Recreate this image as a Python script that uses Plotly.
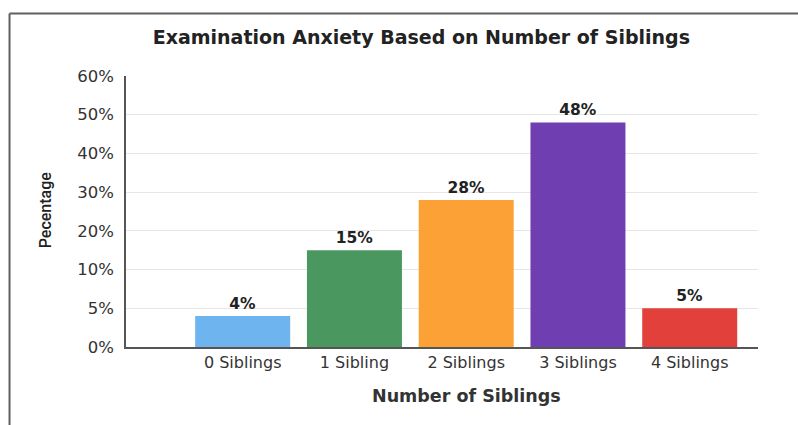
import numpy as np
import plotly.graph_objects as go

# Data
categories = ["0 Siblings", "1 Sibling", "2 Siblings", "3 Siblings", "4 Siblings"]
percentages = [4, 15, 28, 48, 5]
bar_colors = ["#6EB4EE", "#4A9860", "#FBA135", "#6F3FB1", "#E2403A"]

# Y axis labels are evenly spaced although their values are not
tick_values = [0, 5, 10, 20, 30, 40, 50, 60]
tick_labels = [f"{v}%" for v in tick_values]
tick_positions = list(range(len(tick_values)))


def to_axis(v):
    """Map a percentage onto the evenly spaced tick scale."""
    return float(np.interp(v, tick_values, tick_positions))


x_pos = list(range(len(categories)))
y_pos = [to_axis(v) for v in percentages]

TEXT = "#333333"
FONT = "DejaVu Sans"

fig = go.Figure()
fig.add_trace(go.Bar(
    x=x_pos,
    y=y_pos,
    width=0.85,
    marker=dict(color=bar_colors, line=dict(width=0)),
    text=[f"{v}%" for v in percentages],
    textposition="outside",
    textfont=dict(family=FONT, size=15.5, color="#222222", weight="bold"),
    cliponaxis=False,
    hovertemplate="%{customdata}<extra></extra>",
    customdata=[f"{c}: {v}%" for c, v in zip(categories, percentages)],
))

fig.update_layout(
    width=798,
    height=425,
    margin=dict(l=126, r=40, t=76, b=78),
    paper_bgcolor="white",
    plot_bgcolor="white",
    showlegend=False,
    bargap=0.15,
    title=dict(
        text="<b>Examination Anxiety Based on Number of Siblings</b>",
        font=dict(family=FONT, size=19, color="#222222"),
        x=0.528, xanchor="center", y=0.913, yanchor="middle",
    ),
    xaxis=dict(
        range=[-1.044, 4.611],
        tickmode="array",
        tickvals=x_pos,
        ticktext=categories,
        tickfont=dict(family=FONT, size=16, color=TEXT),
        showgrid=False,
        zeroline=False,
        showline=True,
        linecolor="#555555",
        linewidth=1.5,
        ticks="",
    ),
    yaxis=dict(
        range=[0, 7],
        tickmode="array",
        tickvals=tick_positions,
        ticktext=tick_labels,
        tickfont=dict(family=FONT, size=16.5, color=TEXT),
        showgrid=True,
        gridcolor="#e6e6e6",
        gridwidth=1,
        zeroline=False,
        showline=True,
        linecolor="#555555",
        linewidth=1.5,
        ticks="",
        ticklabelstandoff=7,
    ),
    annotations=[
        dict(
            text="<b>Number of Siblings</b>",
            x=2, xref="x", y=-0.18, yref="paper",
            xanchor="center", yanchor="middle", showarrow=False,
            font=dict(family=FONT, size=17.5, color=TEXT),
        ),
        dict(
            text="Pecentage",
            x=-0.128, xref="paper", y=0.505, yref="paper",
            xanchor="center", yanchor="middle", showarrow=False,
            textangle=-90,
            font=dict(family="Roboto", size=16, color="#222222", weight=500),
        ),
    ],
    shapes=[
        # outer frame: top and left edges
        dict(type="line", xref="paper", yref="paper",
             x0=-0.1843, x1=1.2, y0=1.2306, y1=1.2306,
             line=dict(color="#606060", width=2)),
        dict(type="line", xref="paper", yref="paper",
             x0=-0.1843, x1=-0.1843, y0=1.2306, y1=-0.35,
             line=dict(color="#606060", width=2)),
    ],
)

fig.write_html("out.html")
